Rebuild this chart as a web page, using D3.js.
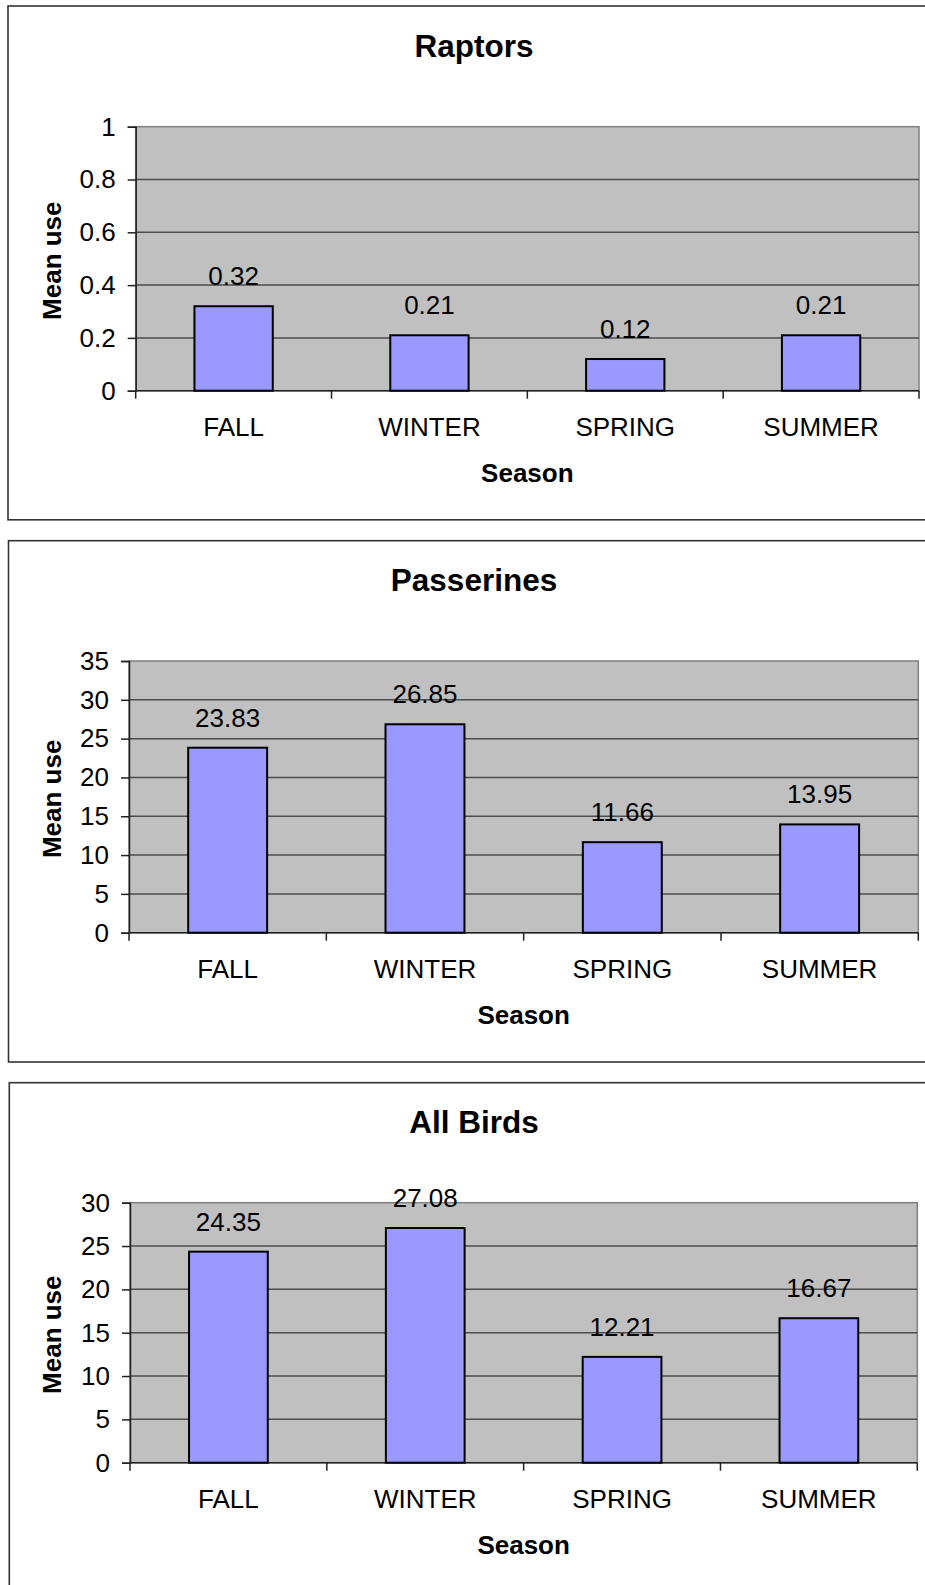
<!DOCTYPE html>
<html>
<head>
<meta charset="utf-8">
<script src="https://cdn.jsdelivr.net/npm/d3@7"></script>
<style>
  html, body { margin: 0; padding: 0; background: #fff; }
  svg { display: block; }
  text { font-family: "Liberation Sans", Arial, sans-serif; fill: #000; }
</style>
</head>
<body>
<svg id="chart" width="925" height="1585"></svg>
<script>
// ---- Data ----
const categories = ["FALL", "WINTER", "SPRING", "SUMMER"];
const chartTitles = ["Raptors", "Passerines", "All Birds"];
const raptorsValues = [0.32, 0.21, 0.12, 0.21];
const passerinesValues = [23.83, 26.85, 11.66, 13.95];
const allBirdsValues = [24.35, 27.08, 12.21, 16.67];
const raptorsTicks = [0, 0.2, 0.4, 0.6, 0.8, 1];
const passerinesTicks = [0, 5, 10, 15, 20, 25, 30, 35];
const allBirdsTicks = [0, 5, 10, 15, 20, 25, 30];
const yAxisTitle = "Mean use";
const xAxisTitle = "Season";

// ---- Layout (per panel) ----
const panels = [
  { title: chartTitles[0], values: raptorsValues, ticks: raptorsTicks, max: 1,
    top: 6, bottom: 519.8, left: 8, pl: 135.7, pr: 919, pt: 126.7, pb: 390.7 },
  { title: chartTitles[1], values: passerinesValues, ticks: passerinesTicks, max: 35,
    top: 540.7, bottom: 1062, left: 8.5, pl: 129, pr: 918.3, pt: 661, pb: 932.7 },
  { title: chartTitles[2], values: allBirdsValues, ticks: allBirdsTicks, max: 30,
    top: 1082.7, bottom: 1600, left: 9.3, pl: 130, pr: 917.3, pt: 1202.7, pb: 1462.7 }
];

const svg = d3.select("#chart");

panels.forEach(p => {
  const g = svg.append("g");

  // outer chart frame (extends beyond right edge, clipped)
  g.append("rect")
    .attr("x", p.left).attr("y", p.top)
    .attr("width", 960).attr("height", p.bottom - p.top)
    .attr("fill", "#fff").attr("stroke", "#333").attr("stroke-width", 1.6);

  const x = d3.scaleBand().domain(categories).range([p.pl, p.pr])
    .paddingInner(0.6).paddingOuter(0.3);
  const y = d3.scaleLinear().domain([0, p.max]).range([p.pb, p.pt]);

  // plot area
  g.append("rect")
    .attr("x", p.pl).attr("y", p.pt)
    .attr("width", p.pr - p.pl).attr("height", p.pb - p.pt)
    .attr("fill", "#c0c0c0").attr("stroke", "#808080").attr("stroke-width", 1.5);

  // gridlines
  g.selectAll(".grid").data(p.ticks.filter(t => t > 0 && t < p.max)).enter()
    .append("line")
    .attr("x1", p.pl).attr("x2", p.pr)
    .attr("y1", d => y(d)).attr("y2", d => y(d))
    .attr("stroke", "#4d4d4d").attr("stroke-width", 1.5);

  // y axis
  const yAxis = d3.axisLeft(y).tickValues(p.ticks).tickSize(8).tickPadding(12)
    .tickFormat(d => String(d));
  const ya = g.append("g").attr("transform", `translate(${p.pl},0)`).call(yAxis);
  ya.select(".domain").attr("stroke", "#222").attr("stroke-width", 1.5);
  ya.selectAll(".tick line").attr("stroke", "#222").attr("stroke-width", 1.5);
  ya.selectAll(".tick text")
    .style("font-family", '"Liberation Sans", Arial, sans-serif')
    .style("font-size", "26px").attr("fill", "#000");

  // x axis baseline
  g.append("line")
    .attr("x1", p.pl).attr("x2", p.pr)
    .attr("y1", p.pb).attr("y2", p.pb)
    .attr("stroke", "#222").attr("stroke-width", 1.5);

  // category boundary ticks
  const step = x.step();
  const bounds = d3.range(categories.length + 1).map(i => p.pl + i * step);
  g.selectAll(".xtick").data(bounds).enter().append("line")
    .attr("x1", d => d).attr("x2", d => d)
    .attr("y1", p.pb).attr("y2", p.pb + 8)
    .attr("stroke", "#222").attr("stroke-width", 1.5);

  // category labels
  g.selectAll(".xlab").data(categories).enter().append("text")
    .attr("x", d => x(d) + x.bandwidth() / 2)
    .attr("y", p.pb + 45)
    .attr("text-anchor", "middle")
    .style("font-size", "26px")
    .text(d => d);

  // bars
  g.selectAll(".bar").data(p.values).enter().append("rect")
    .attr("x", (d, i) => x(categories[i]))
    .attr("y", d => y(d))
    .attr("width", x.bandwidth())
    .attr("height", d => p.pb - y(d))
    .attr("fill", "#9999ff").attr("stroke", "#000").attr("stroke-width", 2);

  // value labels
  g.selectAll(".vlab").data(p.values).enter().append("text")
    .attr("x", (d, i) => x(categories[i]) + x.bandwidth() / 2)
    .attr("y", d => y(d) - 21)
    .attr("text-anchor", "middle")
    .style("font-size", "26px")
    .text(d => d.toFixed(2));

  // chart title
  g.append("text")
    .attr("x", 474).attr("y", p.top + 50.7)
    .attr("text-anchor", "middle")
    .style("font-size", "31.5px").style("font-weight", "bold")
    .text(p.title);

  // axis titles
  g.append("text")
    .attr("x", (p.pl + p.pr) / 2).attr("y", p.pb + 91)
    .attr("text-anchor", "middle")
    .style("font-size", "26px").style("font-weight", "bold")
    .text(xAxisTitle);

  g.append("text")
    .attr("transform", `translate(61,${(p.pt + p.pb) / 2 + 2}) rotate(-90)`)
    .attr("text-anchor", "middle")
    .style("font-size", "26px").style("font-weight", "bold")
    .text(yAxisTitle);
});
</script>
</body>
</html>
